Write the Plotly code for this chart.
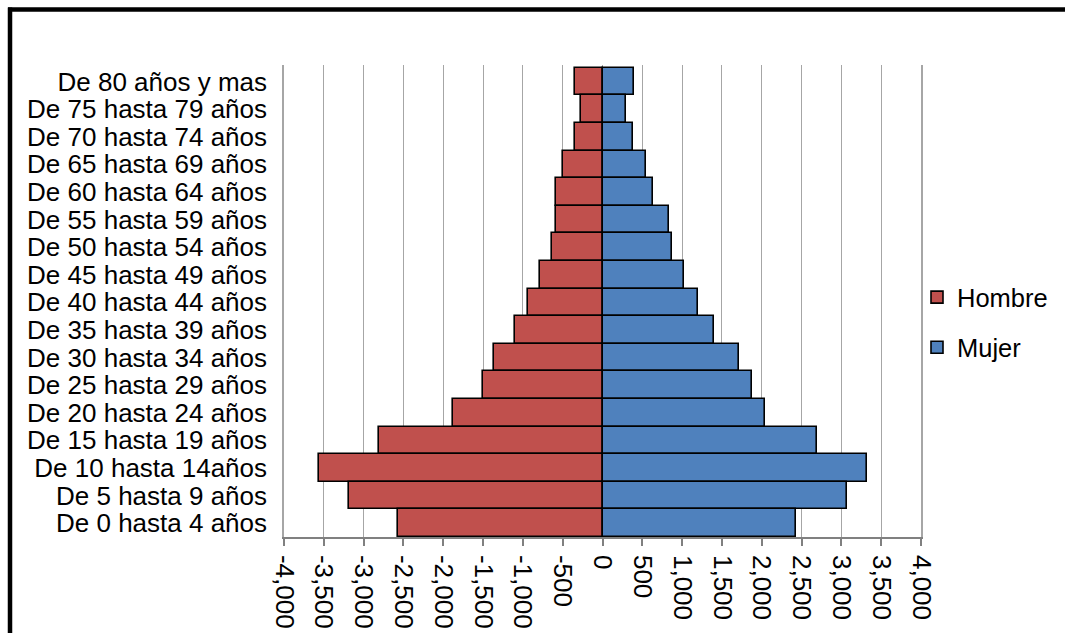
import plotly.graph_objects as go

# Age groups, listed from the top row to the bottom row
categories = [
    "De 80 años y mas",
    "De 75 hasta 79 años",
    "De 70 hasta 74 años",
    "De 65 hasta 69 años",
    "De 60 hasta 64 años",
    "De 55 hasta 59 años",
    "De 50 hasta 54 años",
    "De 45 hasta 49 años",
    "De 40 hasta 44 años",
    "De 35 hasta 39 años",
    "De 30 hasta 34 años",
    "De 25 hasta 29 años",
    "De 20 hasta 24 años",
    "De 15 hasta 19 años",
    "De 10 hasta 14años",
    "De 5 hasta 9 años",
    "De 0 hasta 4 años",
]

# Hombre plotted to the left (negative), Mujer to the right
hombre = [-340, -270, -350, -495, -580, -590, -640, -790, -930,
          -1100, -1365, -1505, -1880, -2810, -3565, -3180, -2565]
mujer = [390, 300, 380, 545, 640, 840, 870, 1025, 1205,
         1395, 1715, 1875, 2045, 2700, 3320, 3070, 2425]

tick_values = list(range(-4000, 4001, 500))
tick_labels = [f"{v:,}" for v in tick_values]

FONT = "Liberation Sans, Arial, sans-serif"
W, H = 1065, 633
ML, MR, MT, MB = 284, 144, 65, 96
PW, PH = W - ML - MR, H - MT - MB


def px_x(x):
    return (x - ML) / PW


def px_y(y):
    return (H - MB - y) / PH


fig = go.Figure()
fig.add_trace(go.Bar(
    y=categories, x=hombre, orientation="h", name="Hombre",
    marker=dict(color="#C0504D", line=dict(color="black", width=1.6)),
    legendgroup="h",
))
fig.add_trace(go.Bar(
    y=categories, x=mujer, orientation="h", name="Mujer",
    marker=dict(color="#4F81BD", line=dict(color="black", width=1.6)),
    legendgroup="m",
))

fig.update_layout(
    width=W, height=H,
    margin=dict(l=ML, r=MR, t=MT, b=MB, pad=0, autoexpand=False),
    paper_bgcolor="white", plot_bgcolor="white",
    barmode="relative", bargap=0,
    font=dict(family=FONT, size=26, color="black"),
    showlegend=True,
    legend=dict(
        x=px_x(917), xanchor="left",
        y=px_y(274), yanchor="top",
        traceorder="grouped", tracegroupgap=14,
        font=dict(family=FONT, size=25.5, color="black"),
        bgcolor="rgba(0,0,0,0)",
    ),
    xaxis=dict(
        range=[-4000, 4000],
        tickmode="array", tickvals=tick_values, ticktext=tick_labels,
        tickangle=90,
        showgrid=True, gridcolor="#A6A6A6", gridwidth=1,
        zeroline=False,
        showline=True, linecolor="#808080", linewidth=1.5,
        ticks="outside", ticklen=7, tickcolor="#808080", tickwidth=1.5,
        ticklabelstandoff=4,
        tickfont=dict(family=FONT, size=26, color="black"),
        fixedrange=True,
    ),
    yaxis=dict(
        type="category",
        categoryorder="array", categoryarray=categories,
        tickmode="array", tickvals=categories, ticktext=categories,
        range=[16.5, -0.6],
        showgrid=False, zeroline=False,
        showline=True, mirror=True, linecolor="#A6A6A6", linewidth=1.5,
        ticks="", ticklabelstandoff=10,
        tickfont=dict(family=FONT, size=26, color="black"),
        fixedrange=True,
    ),
    shapes=[
        # outer frame: left and top edges
        dict(type="line", xref="paper", yref="paper",
             x0=px_x(10), x1=px_x(10), y0=px_y(633), y1=px_y(7.5),
             line=dict(color="black", width=4.5), layer="above"),
        dict(type="line", xref="paper", yref="paper",
             x0=px_x(8), x1=px_x(1065), y0=px_y(9.5), y1=px_y(9.5),
             line=dict(color="black", width=4.5), layer="above"),
    ],
)

PAGE_CSS = (
    "var s=document.createElement('style');"
    "s.innerHTML='html,body{margin:0;padding:0;width:1065px;height:633px;overflow:hidden;}"
    " .main-svg{overflow:hidden !important;}';"
    "document.head.appendChild(s);"
)

fig.write_html(
    "out.html",
    config={"displayModeBar": False},
    post_script=PAGE_CSS,
)
